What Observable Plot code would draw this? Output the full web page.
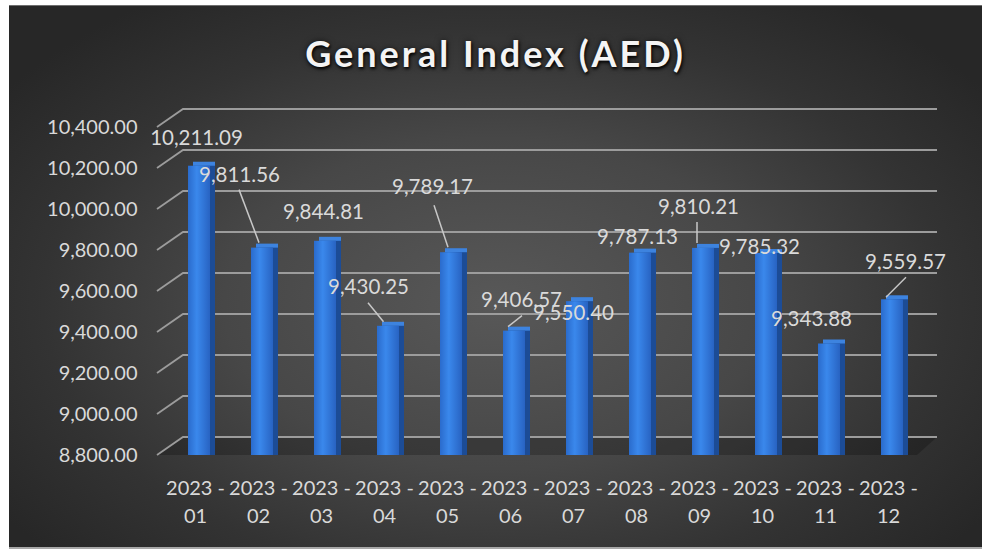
<!DOCTYPE html>
<html>
<head>
<meta charset="utf-8">
<script src="https://cdn.jsdelivr.net/npm/d3@7"></script>
<script src="https://cdn.jsdelivr.net/npm/@observablehq/plot@0.6"></script>
<style>
  html, body { margin: 0; padding: 0; background: #ffffff; }
  #chart {
    position: absolute; left: 9px; top: 5px; width: 973px; height: 544px;
    box-sizing: border-box;
    border-top: 1px solid #6e6e6e; border-bottom: 2px solid #a8a8a8;
    background: radial-gradient(ellipse 62% 68% at 50% 55%, #585858 0%, #474747 45%, #333333 75%, #272727 100%);
    overflow: hidden;
  }
  #title {
    position: absolute; left: 0; top: 26px; width: 100%; text-align: center;
    font-family: Lato, "Open Sans", sans-serif; font-weight: 700; font-size: 36px;
    letter-spacing: 3px; line-height: 42px; color: #f4f4f4;
    text-shadow: 1px 2px 3px rgba(0,0,0,0.9), 0 0 6px rgba(0,0,0,0.6);
  }
  #plot { position: absolute; left: 0; top: 89px; }
</style>
</head>
<body>
<div id="chart">
  <div id="title">General Index (AED)</div>
  <div id="plot"></div>
</div>
<script>
// ---- data ----
const months = ["2023 - 01", "2023 - 02", "2023 - 03", "2023 - 04", "2023 - 05", "2023 - 06",
                "2023 - 07", "2023 - 08", "2023 - 09", "2023 - 10", "2023 - 11", "2023 - 12"];
const values = [10211.09, 9811.56, 9844.81, 9430.25, 9789.17, 9406.57,
                9550.40, 9787.13, 9810.21, 9785.32, 9343.88, 9559.57];
const yTicks = [8800, 9000, 9200, 9400, 9600, 9800, 10000, 10200, 10400];

const data = months.map((m, i) => ({month: m, value: values[i]}));
const fmt = d3.format(",.2f");
const base = yTicks[0];

// ---- layout of the data labels (pixel offsets from each bar's top centre) ----
const labelOffsets = [[-3, -28], [-23, -73], [-2, -29], [-20, -39], [-19, -65], [7, -31],
                      [-4, 12], [-3, -16], [-5, -41], [-7, -6], [-18, -25], [13, -37]];
const leaderLines = {1: [-23, -58, -3, -5], 3: [-20, -23, -4.5, -4], 4: [-17, -47, -3, -5],
                     5: [8, -15, -6, -4], 8: [-6, -26, -6, -5], 11: [14, -22, -6, -2]};

const labelMarks = data.map((d, i) => Plot.text([d], {
  x: "month", y: "value", text: r => fmt(r.value),
  dx: labelOffsets[i][0], dy: labelOffsets[i][1],
  fill: "#dadada", fontSize: 20.5, fontFamily: "Lato, sans-serif"
}));

const plot = Plot.plot({
  width: 973, height: 452,
  marginLeft: 157, marginRight: 56, marginTop: 32, marginBottom: 92,
  style: {background: "transparent", color: "#d9d9d9", fontFamily: "Lato, sans-serif", fontSize: "20px"},
  x: {domain: months, paddingInner: 0.65, paddingOuter: 0.325, label: null},
  y: {domain: [yTicks[0], yTicks[yTicks.length - 1]], label: null},
  marks: [
    Plot.barY(data, {x: "month", y1: base, y2: "value", fill: "#3d83df", dx: 5, dy: -4}),
    Plot.barY(data, {x: "month", y1: base, y2: "value", fill: "#1c4c96", dx: 5}),
    Plot.barY(data, {x: "month", y1: base, y2: "value", fill: "url(#barGrad)"}),
    Plot.axisY({ticks: yTicks, tickFormat: fmt, tickSize: 0, tickPadding: 29,
                fontSize: 20, fill: "#d9d9d9", label: null}),
    Plot.axisX({tickSize: 0, tickPadding: 20, tickFormat: d => d.replace(" - ", " -\n"),
                lineHeight: 1.4, fontSize: 20, fill: "#d9d9d9", dx: -4, label: null}),
    ...labelMarks
  ]
});
document.getElementById("plot").appendChild(plot);

// ---- 3D back wall grid, floor, gradients and leader lines using the plot's scales ----
const svg = d3.select(plot);
const xs = plot.scale("x"), ys = plot.scale("y");
const defs = svg.append("defs");
const g = defs.append("linearGradient").attr("id", "barGrad").attr("x1", "0").attr("x2", "1").attr("y1", "0").attr("y2", "0");
g.append("stop").attr("offset", "0%").attr("stop-color", "#2a6bcc");
g.append("stop").attr("offset", "40%").attr("stop-color", "#3a88ec");
g.append("stop").attr("offset", "100%").attr("stop-color", "#2863c2");

const grid = svg.insert("g", "g").attr("class", "grid3d");
const left = 148, depthX = 26, depthY = -18, right = 928;
const y0 = ys.apply(base);
grid.append("path")
  .attr("d", `M${left},${y0}L${left + depthX},${y0 + depthY}L${right},${y0 + depthY}L${right - depthX + 6},${y0}Z`)
  .attr("fill", "rgba(0,0,0,0.22)");
for (const t of yTicks) {
  const y = ys.apply(t);
  grid.append("path")
    .attr("d", `M${left},${y}L${left + depthX},${y + depthY}L${right},${y + depthY}`)
    .attr("fill", "none").attr("stroke", "#9c9c9c").attr("stroke-width", 1.8);
}

const leaders = svg.append("g").attr("class", "leaders");
data.forEach((d, i) => {
  const L = leaderLines[i];
  if (!L) return;
  const bx = xs.apply(d.month) + xs.bandwidth / 2;
  const by = ys.apply(d.value);
  leaders.append("line")
    .attr("x1", bx + L[0]).attr("y1", by + L[1])
    .attr("x2", bx + L[2]).attr("y2", by + L[3])
    .attr("stroke", "#c8c8c8").attr("stroke-width", 1.5);
});
</script>
</body>
</html>
